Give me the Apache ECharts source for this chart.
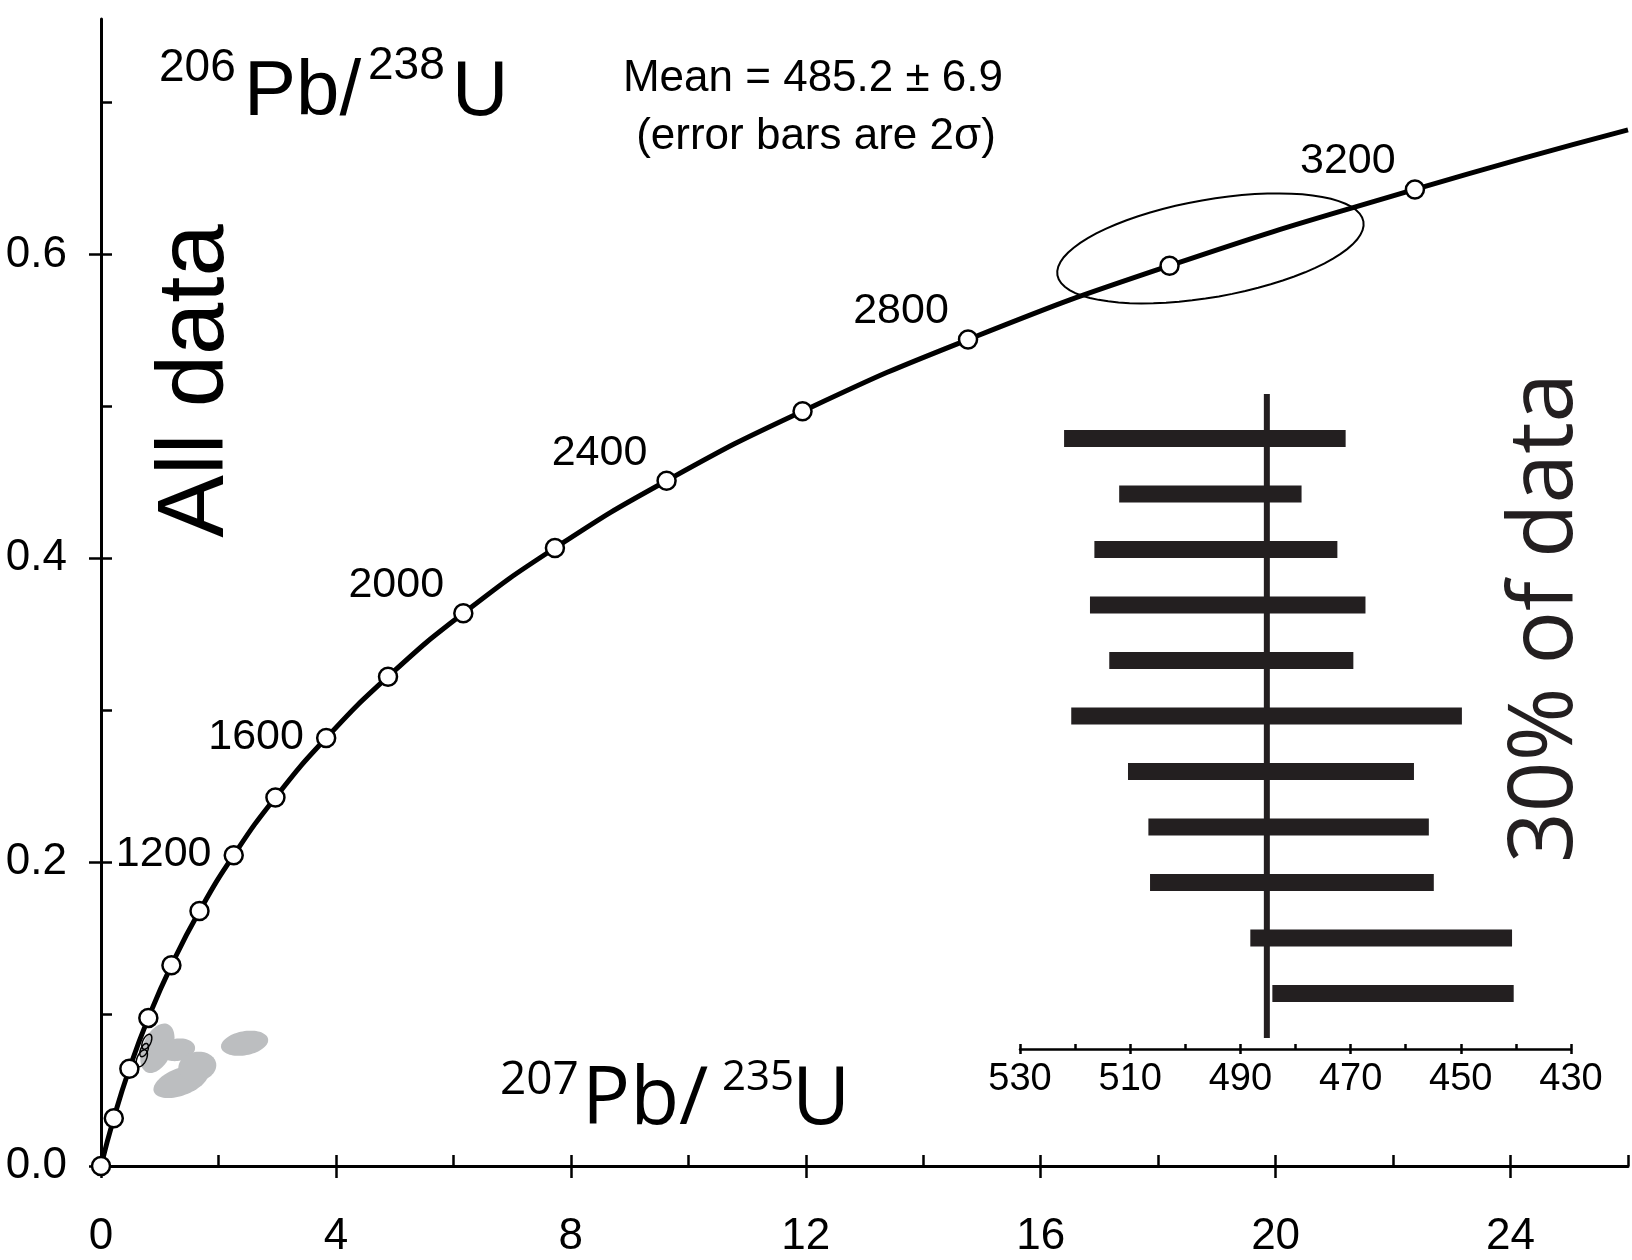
<!DOCTYPE html>
<html>
<head>
<meta charset="utf-8">
<title>Concordia</title>
<script src="https://cdn.jsdelivr.net/npm/echarts@6/dist/echarts.min.js"></script>
<style>
  html, body { margin: 0; padding: 0; background: #fff; }
  #main { width: 1632px; height: 1260px; }
</style>
</head>
<body>
<div id="main"></div>
<script>
// concordia marks every 200 Ma (207Pb/235U, 206Pb/238U)
var ages = [0, 200, 400, 600, 800, 1000, 1200, 1400, 1600, 1800, 2000, 2200, 2400, 2600, 2800, 3000, 3200];
var concX = [0, 0.218, 0.483, 0.806, 1.199, 1.677, 2.260, 2.970, 3.834, 4.887, 6.169, 7.729, 9.630, 11.945, 14.763, 18.194, 22.372];
var concY = [0, 0.0315, 0.0640, 0.0975, 0.1321, 0.1678, 0.2046, 0.2426, 0.2817, 0.3221, 0.3638, 0.4068, 0.4511, 0.4968, 0.5440, 0.5926, 0.6428];
var curveEnd = [26.0, 0.682];
var labelledAges = [1200, 1600, 2000, 2400, 2800, 3200];

// error ellipses: centre x, centre y, half axis a (dx, dy), half axis b (dx, dy)
var bigEllipse = [[18.89, 0.604, 2.605, 0.0177, -0.144, 0.0316]];
var greyEllipses = [
  [0.960, 0.0775, 0.180, 0.0158, -0.230, 0.0040],
  [1.300, 0.0765, 0.300, 0.0020, -0.033, 0.0072],
  [1.360, 0.0555, 0.460, 0.0066, -0.080, 0.0085],
  [1.640, 0.0655, 0.320, 0.0022, -0.045, 0.0095],
  [2.445, 0.0808, 0.400, 0.0028, -0.036, 0.0078]
];
var smallEllipses = [
  [0.780, 0.0818, 0.058, 0.0048, -0.062, 0.0011],
  [0.734, 0.0763, 0.050, 0.0042, -0.054, 0.0010],
  [0.695, 0.0709, 0.065, 0.0054, -0.070, 0.0013]
];

// inset: grain ages (Ma), 2 sigma ranges, top to bottom
var barOld = [522.0, 512.0, 516.5, 517.3, 513.8, 520.7, 510.4, 506.7, 506.4, 488.2, 484.2];
var barYoung = [470.9, 478.9, 472.4, 467.3, 469.5, 449.8, 458.5, 455.8, 454.9, 440.7, 440.4];
var meanAge = 485.2;

var xMajor = [0, 4, 8, 12, 16, 20, 24];
var xMinor = [0, 2, 4, 6, 8, 10, 12, 14, 16, 18, 20, 22, 24, 26];
var yMajor = [0, 0.2, 0.4, 0.6];
var yMinor = [0, 0.1, 0.2, 0.3, 0.4, 0.5, 0.6, 0.7];
var insetMajor = [430, 450, 470, 490, 510, 530];
var insetMinor = [430, 440, 450, 460, 470, 480, 490, 500, 510, 520, 530];

var FONT = "'Liberation Sans', Arial, sans-serif";
var FONT2 = "'Open Sans', 'Noto Sans', sans-serif";
var INK = '#000';

function ellipseRenderer(style) {
  return function (params, api) {
    var pts = [];
    for (var k = 0; k < 72; k++) {
      var t = Math.PI * 2 * k / 72;
      var c = Math.cos(t), s = Math.sin(t);
      pts.push(api.coord([
        api.value(0) + api.value(2) * c + api.value(4) * s,
        api.value(1) + api.value(3) * c + api.value(5) * s
      ]));
    }
    return { type: 'polygon', shape: { points: pts }, style: style };
  };
}

function renderBar(params, api) {
  var p1 = api.coord([api.value(0), api.value(2)]);
  var p2 = api.coord([api.value(1), api.value(2)]);
  var h = 17;
  return {
    type: 'rect',
    shape: { x: Math.min(p1[0], p2[0]), y: p1[1] - h / 2, width: Math.abs(p2[0] - p1[0]), height: h },
    style: { fill: '#231f20' }
  };
}

var markerData = ages.map(function (a, i) {
  var item = { value: [concX[i], concY[i]] };
  if (labelledAges.indexOf(a) >= 0) {
    item.label = {
      show: true,
      formatter: String(a),
      position: 'left',
      distance: a <= 1600 ? 12 : 9,
      offset: a <= 1600 ? [0, -1] : [0, -28]
    };
  }
  return item;
});

var curveData = concX.map(function (x, i) { return [x, concY[i]]; }).concat([curveEnd]);
var barData = barOld.map(function (v, i) { return [v, barYoung[i], i + 1]; });

function minorAxis(grid, min, max, inverse, ticks, len) {
  return {
    gridIndex: grid, type: 'value', min: min, max: max, inverse: inverse, position: 'bottom',
    axisLine: { show: false, onZero: false },
    axisTick: { customValues: ticks, inside: true, length: len, lineStyle: { color: INK, width: 2.5 } },
    axisLabel: { show: false },
    splitLine: { show: false }
  };
}

var chart = echarts.init(document.getElementById('main'));
chart.setOption({
  animation: false,
  backgroundColor: '#fff',
  grid: [
    { left: 101, top: 19, width: 1527, height: 1147 },
    { left: 1020, top: 383, width: 551, height: 666 }
  ],
  xAxis: [
    {
      gridIndex: 0, type: 'value', min: 0, max: 26, position: 'bottom',
      axisLine: { onZero: false, lineStyle: { color: INK, width: 3 } },
      axisTick: { customValues: xMajor, inside: false, length: 12, lineStyle: { color: INK, width: 2.5 } },
      axisLabel: { customValues: xMajor, margin: 49, fontSize: 44, color: INK, fontFamily: FONT },
      splitLine: { show: false }
    },
    minorAxis(0, 0, 26, false, xMinor, 11),
    {
      gridIndex: 1, type: 'value', min: 430, max: 530, inverse: true, position: 'bottom',
      axisLine: { onZero: false, lineStyle: { color: INK, width: 2.5 } },
      axisTick: { customValues: insetMajor, inside: false, length: 5, lineStyle: { color: INK, width: 2.5 } },
      axisLabel: { customValues: insetMajor, margin: 12, fontSize: 38, color: INK, fontFamily: FONT },
      splitLine: { show: false }
    },
    minorAxis(1, 430, 530, true, insetMinor, 5)
  ],
  yAxis: [
    {
      gridIndex: 0, type: 'value', min: 0, max: 0.755, position: 'left',
      axisLine: { onZero: false, lineStyle: { color: INK, width: 3 } },
      axisTick: { customValues: yMajor, inside: false, length: 12, lineStyle: { color: INK, width: 2.5 } },
      axisLabel: {
        customValues: yMajor, margin: 34, fontSize: 44, color: INK, fontFamily: FONT,
        padding: [6, 0, 0, 0],
        formatter: function (v) { return v.toFixed(1); }
      },
      splitLine: { show: false }
    },
    {
      gridIndex: 0, type: 'value', min: 0, max: 0.755, position: 'left',
      axisLine: { show: false, onZero: false },
      axisTick: { customValues: yMinor, inside: true, length: 11, lineStyle: { color: INK, width: 2.5 } },
      axisLabel: { show: false },
      splitLine: { show: false }
    },
    {
      gridIndex: 1, type: 'value', min: 0, max: 12, inverse: true, show: false
    }
  ],
  series: [
    {
      type: 'custom', xAxisIndex: 0, yAxisIndex: 0, z: 1, clip: false,
      renderItem: ellipseRenderer({ fill: '#bcbec0' }),
      encode: { x: 0, y: 1 },
      data: greyEllipses
    },
    {
      type: 'custom', xAxisIndex: 0, yAxisIndex: 0, z: 2, clip: false,
      renderItem: ellipseRenderer({ fill: 'none', stroke: INK, lineWidth: 1.5 }),
      encode: { x: 0, y: 1 },
      data: smallEllipses
    },
    {
      type: 'custom', xAxisIndex: 0, yAxisIndex: 0, z: 2, clip: false,
      renderItem: ellipseRenderer({ fill: 'none', stroke: INK, lineWidth: 2 }),
      encode: { x: 0, y: 1 },
      data: bigEllipse
    },
    {
      type: 'line', xAxisIndex: 0, yAxisIndex: 0, z: 3,
      smooth: true, showSymbol: false, silent: true,
      lineStyle: { color: INK, width: 5 },
      data: curveData
    },
    {
      type: 'scatter', xAxisIndex: 0, yAxisIndex: 0, z: 4,
      symbol: 'circle', symbolSize: 18,
      itemStyle: { color: '#fff', borderColor: INK, borderWidth: 2.5, opacity: 1 },
      label: { show: false, color: INK, fontSize: 43, fontFamily: FONT },
      data: markerData
    },
    {
      type: 'line', xAxisIndex: 2, yAxisIndex: 2, z: 3,
      showSymbol: false, silent: true,
      lineStyle: { color: '#231f20', width: 6 },
      data: [[meanAge, 0.2], [meanAge, 11.8]]
    },
    {
      type: 'custom', xAxisIndex: 2, yAxisIndex: 2, z: 4,
      renderItem: renderBar,
      encode: { x: [0, 1], y: 2 },
      data: barData
    }
  ],
  graphic: [
    { type: 'text', x: 159, y: 68, z: 10, style: { text: '206', fontSize: 46, fontFamily: FONT, fill: INK, verticalAlign: 'middle' } },
    { type: 'text', x: 244, y: 93, z: 10, style: { text: 'Pb/', fontSize: 78, fontFamily: FONT, fill: INK, verticalAlign: 'middle' } },
    { type: 'text', x: 368, y: 66, z: 10, style: { text: '238', fontSize: 46, fontFamily: FONT, fill: INK, verticalAlign: 'middle' } },
    { type: 'text', x: 452, y: 93, z: 10, style: { text: 'U', fontSize: 78, fontFamily: FONT, fill: INK, verticalAlign: 'middle' } },

    { type: 'text', x: 813, y: 79, z: 10, style: { text: 'Mean = 485.2 \u00b1 6.9', fontSize: 44, fontFamily: FONT, fill: INK, align: 'center', verticalAlign: 'middle' } },
    { type: 'text', x: 816, y: 137, z: 10, style: { text: '(error bars are 2\u03c3)', fontSize: 44, fontFamily: FONT, fill: INK, align: 'center', verticalAlign: 'middle' } },

    { type: 'text', x: 500, y: 1081, z: 10, style: { text: '207', fontSize: 46, fontFamily: FONT2, fill: INK, verticalAlign: 'middle' } },
    { type: 'text', x: 582, y: 1101, z: 10, style: { text: 'Pb/', fontSize: 80, fontFamily: FONT2, fill: INK, verticalAlign: 'middle' } },
    { type: 'text', x: 722, y: 1078, z: 10, style: { text: '235', fontSize: 42, fontFamily: FONT2, fill: INK, verticalAlign: 'middle' } },
    { type: 'text', x: 792, y: 1101, z: 10, style: { text: 'U', fontSize: 80, fontFamily: FONT2, fill: INK, verticalAlign: 'middle' } },

    { type: 'text', x: 197, y: 381, rotation: Math.PI / 2, z: 10, style: { text: 'All data', fontSize: 94, fontFamily: FONT, fill: INK, align: 'center', verticalAlign: 'middle' } },
    { type: 'text', x: 1547, y: 618, rotation: Math.PI / 2, z: 10, style: { text: '30% of data', fontSize: 89, fontFamily: FONT2, fill: '#231f20', align: 'center', verticalAlign: 'middle' } }
  ]
});
</script>
</body>
</html>
